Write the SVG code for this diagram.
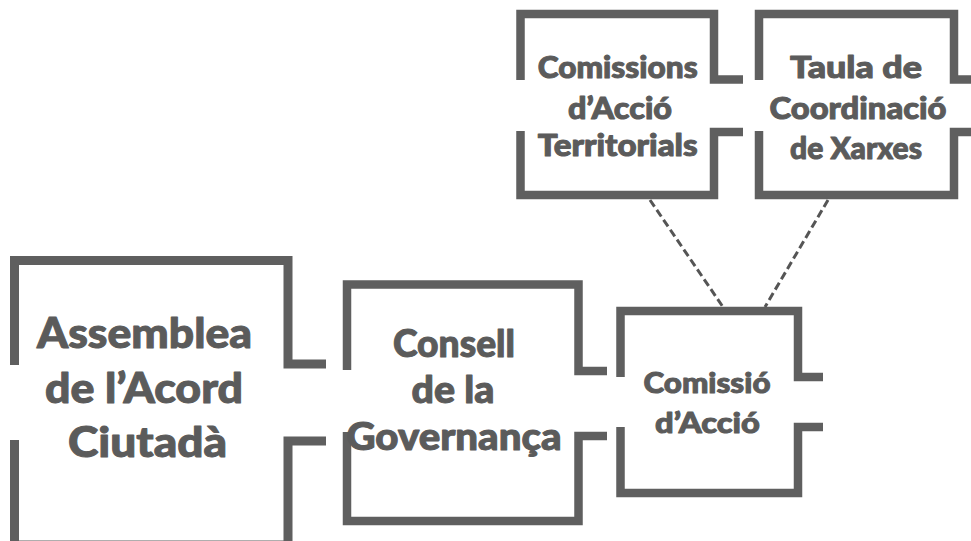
<svg xmlns="http://www.w3.org/2000/svg" width="971" height="541" viewBox="0 0 971 541">
<style>
.frame{fill:none;stroke:#5f5f5f;stroke-width:8.5;stroke-linejoin:miter;stroke-linecap:butt}
.lbl{font-family:Lato,"DejaVu Sans","Liberation Sans",sans-serif;font-weight:900;fill:#5b5b5b;stroke:#5b5b5b;stroke-width:1;stroke-linejoin:round;text-anchor:middle}
.dash{fill:none;stroke:#555555;stroke-width:3;stroke-dasharray:8 4}
</style>
<rect width="971" height="541" fill="#ffffff"/>
<g id="connectors">
<line class="dash" x1="650" y1="200" x2="723" y2="307"/>
<line class="dash" x1="828" y1="200" x2="765" y2="307"/>
</g>
<g id="assemblea">
<path class="frame" style="stroke-width:9" d="M14.5,365 V260.5 H288 V364 H326"/>
<path class="frame" style="stroke-width:9" d="M326,441 H288 V545 H14.5 V440"/>
<text class="lbl" font-size="42" x="144.5" y="348" textLength="215" lengthAdjust="spacingAndGlyphs">Assemblea</text>
<text class="lbl" font-size="42" x="144" y="403" textLength="198" lengthAdjust="spacingAndGlyphs">de l’Acord</text>
<text class="lbl" font-size="42" x="147.5" y="457" textLength="159" lengthAdjust="spacingAndGlyphs">Ciutadà</text>
</g>
<g id="consell">
<path class="frame" d="M347,370 V284.5 H578.5 V371 H607"/>
<path class="frame" d="M607,436 H578.5 V521 H347 V432"/>
<text class="lbl" font-size="37" x="454" y="356.7" textLength="122" lengthAdjust="spacingAndGlyphs">Consell</text>
<text class="lbl" font-size="37" x="453" y="403" textLength="83" lengthAdjust="spacingAndGlyphs">de la</text>
<text class="lbl" font-size="37" x="454" y="450" textLength="215" lengthAdjust="spacingAndGlyphs">Governança</text>
</g>
<g id="comissio">
<path class="frame" d="M620.5,377 V311 H798 V377 H823"/>
<path class="frame" d="M823,427 H798 V493 H620.5 V427"/>
<text class="lbl" font-size="29" x="707" y="392.7" textLength="127" lengthAdjust="spacingAndGlyphs">Comissió</text>
<text class="lbl" font-size="29" x="707.5" y="432.7" textLength="105" lengthAdjust="spacingAndGlyphs">d’Acció</text>
</g>
<g id="comissions">
<path class="frame" d="M520.5,80 V14 H714 V79.5 H743"/>
<path class="frame" d="M743,132 H714 V195 H520.5 V131"/>
<text class="lbl" font-size="30" x="617.7" y="77.7" textLength="160" lengthAdjust="spacingAndGlyphs">Comissions</text>
<text class="lbl" font-size="30" x="620" y="119" textLength="104" lengthAdjust="spacingAndGlyphs">d’Acció</text>
<text class="lbl" font-size="30" x="617.7" y="156" textLength="160" lengthAdjust="spacingAndGlyphs">Territorials</text>
</g>
<g id="taula">
<path class="frame" d="M759,80 V14 H954 V79.5 H975"/>
<path class="frame" d="M975,132 H954 V195 H759 V131"/>
<text class="lbl" font-size="30" x="856" y="77.7" textLength="132" lengthAdjust="spacingAndGlyphs">Taula de</text>
<text class="lbl" font-size="30" x="858" y="119" textLength="177" lengthAdjust="spacingAndGlyphs">Coordinació</text>
<text class="lbl" font-size="30" x="856" y="159" textLength="132" lengthAdjust="spacingAndGlyphs">de Xarxes</text>
</g>
</svg>
